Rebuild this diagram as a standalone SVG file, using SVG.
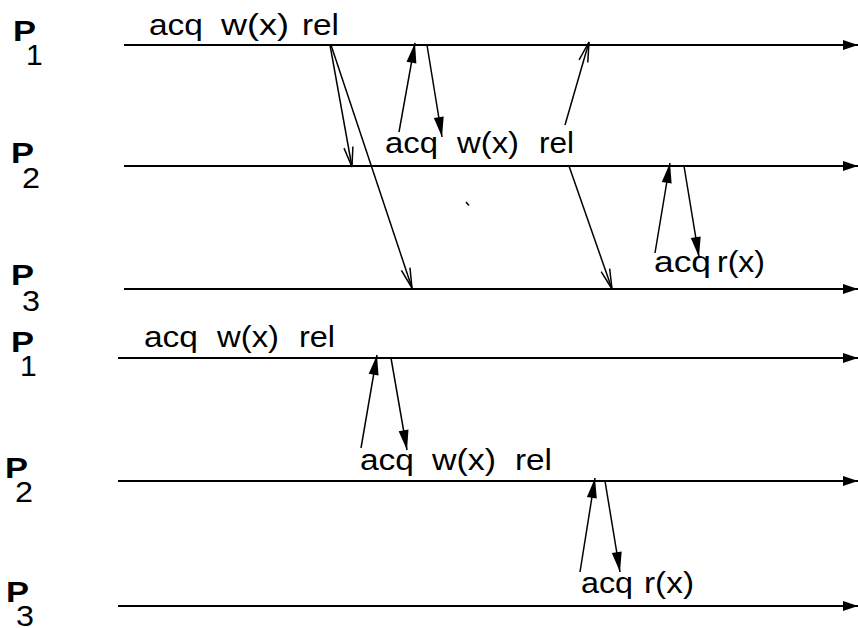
<svg xmlns="http://www.w3.org/2000/svg" width="858" height="628" viewBox="0 0 858 628">
<style>
  .bg { fill: #ffffff; }
  .tl { stroke: #000; stroke-width: 2; fill: none; marker-end: url(#endHead); }
  .msg { stroke: #000; stroke-width: 1.5; fill: none; }
  .filled { marker-end: url(#fillHead); }
  .open { marker-end: url(#openHead); }
  .t { font-family: "Liberation Sans", Arial, Helvetica, sans-serif; font-size: 30px; fill: #000; }
  .p { font-family: "Liberation Sans", Arial, Helvetica, sans-serif; font-size: 30px; font-weight: bold; fill: #000; }
  .sub { font-family: "Liberation Sans", Arial, Helvetica, sans-serif; font-size: 30px; fill: #000; }
</style>
<defs>
  <marker id="endHead" markerUnits="userSpaceOnUse" viewBox="0 0 15 10" markerWidth="15" markerHeight="10" refX="15" refY="5" orient="auto" overflow="visible">
    <path d="M0,0 L15,5 L0,10 Z" fill="#000"/>
  </marker>
  <marker id="fillHead" markerUnits="userSpaceOnUse" viewBox="0 0 20 10" markerWidth="20" markerHeight="10" refX="20" refY="5" orient="auto" overflow="visible">
    <path d="M0,0 L20,5 L0,10 Z" fill="#000"/>
  </marker>
  <marker id="openHead" markerUnits="userSpaceOnUse" viewBox="0 0 20 10" markerWidth="20" markerHeight="10" refX="20" refY="5" orient="auto" overflow="visible">
    <path d="M0,0.5 L20,5 L0,9.5" fill="none" stroke="#000" stroke-width="1.5"/>
  </marker>
</defs>
<rect class="bg" x="0" y="0" width="858" height="628"/>

<!-- Top scenario -->
<g id="top-P1">
  <text class="p" x="13" y="41" textLength="23" lengthAdjust="spacingAndGlyphs">P</text>
  <text class="sub" x="26" y="65">1</text>
  <line class="tl" x1="124" y1="45" x2="858" y2="45"/>
  <text class="t" y="35"><tspan x="149" textLength="54" lengthAdjust="spacingAndGlyphs">acq</tspan><tspan x="221" textLength="68" lengthAdjust="spacingAndGlyphs">w(x)</tspan><tspan x="302" textLength="37" lengthAdjust="spacingAndGlyphs">rel</tspan></text>
</g>
<g id="top-P2">
  <text class="p" x="11" y="163" textLength="23" lengthAdjust="spacingAndGlyphs">P</text>
  <text class="sub" x="22" y="188" textLength="18" lengthAdjust="spacingAndGlyphs">2</text>
  <line class="tl" x1="124" y1="166" x2="858" y2="166"/>
  <text class="t" y="153"><tspan x="385" textLength="53" lengthAdjust="spacingAndGlyphs">acq</tspan><tspan x="457" textLength="62" lengthAdjust="spacingAndGlyphs">w(x)</tspan><tspan x="539" textLength="35" lengthAdjust="spacingAndGlyphs">rel</tspan></text>
</g>
<g id="top-P3">
  <text class="p" x="11" y="285" textLength="23" lengthAdjust="spacingAndGlyphs">P</text>
  <text class="sub" x="22" y="311" textLength="18" lengthAdjust="spacingAndGlyphs">3</text>
  <line class="tl" x1="124" y1="289" x2="858" y2="289"/>
  <text class="t" y="272"><tspan x="654" textLength="57" lengthAdjust="spacingAndGlyphs">acq</tspan><tspan x="717" textLength="48" lengthAdjust="spacingAndGlyphs">r(x)</tspan></text>
</g>

<!-- Bottom scenario -->
<g id="bottom-P1">
  <text class="p" x="11" y="352" textLength="23" lengthAdjust="spacingAndGlyphs">P</text>
  <text class="sub" x="20" y="376">1</text>
  <line class="tl" x1="118" y1="358" x2="858" y2="358"/>
  <text class="t" y="347"><tspan x="144" textLength="54" lengthAdjust="spacingAndGlyphs">acq</tspan><tspan x="217" textLength="62" lengthAdjust="spacingAndGlyphs">w(x)</tspan><tspan x="299" textLength="36" lengthAdjust="spacingAndGlyphs">rel</tspan></text>
</g>
<g id="bottom-P2">
  <text class="p" x="5" y="478" textLength="23" lengthAdjust="spacingAndGlyphs">P</text>
  <text class="sub" x="15" y="502" textLength="18" lengthAdjust="spacingAndGlyphs">2</text>
  <line class="tl" x1="118" y1="481" x2="858" y2="481"/>
  <text class="t" y="470"><tspan x="360" textLength="54" lengthAdjust="spacingAndGlyphs">acq</tspan><tspan x="432" textLength="64" lengthAdjust="spacingAndGlyphs">w(x)</tspan><tspan x="515" textLength="37" lengthAdjust="spacingAndGlyphs">rel</tspan></text>
</g>
<g id="bottom-P3">
  <text class="p" x="6" y="602" textLength="23" lengthAdjust="spacingAndGlyphs">P</text>
  <text class="sub" x="16" y="626" textLength="18" lengthAdjust="spacingAndGlyphs">3</text>
  <line class="tl" x1="118" y1="606" x2="858" y2="606"/>
  <text class="t" y="593"><tspan x="581" textLength="52" lengthAdjust="spacingAndGlyphs">acq</tspan><tspan x="644" textLength="50" lengthAdjust="spacingAndGlyphs">r(x)</tspan></text>
</g>

<g id="connectors">
  <!-- top -->
  <line class="msg open" x1="330" y1="45" x2="352" y2="167"/>
  <line class="msg open" x1="331" y1="45" x2="412" y2="288"/>
  <line class="msg filled" x1="399" y1="132" x2="415" y2="43"/>
  <line class="msg filled" x1="427" y1="45" x2="442" y2="137"/>
  <line class="msg open" x1="565" y1="125" x2="589" y2="42"/>
  <line class="msg open" x1="569" y1="166" x2="612" y2="289"/>
  <line class="msg filled" x1="655" y1="253" x2="670" y2="163"/>
  <line class="msg filled" x1="684" y1="166" x2="699" y2="257"/>
  <line class="msg" x1="466" y1="202" x2="469" y2="205.5"/>
  <!-- bottom -->
  <line class="msg filled" x1="361" y1="448" x2="377" y2="355"/>
  <line class="msg filled" x1="391" y1="358" x2="407" y2="450"/>
  <line class="msg filled" x1="580" y1="572" x2="595" y2="478"/>
  <line class="msg filled" x1="605" y1="481" x2="620" y2="572"/>
</g>
</svg>
